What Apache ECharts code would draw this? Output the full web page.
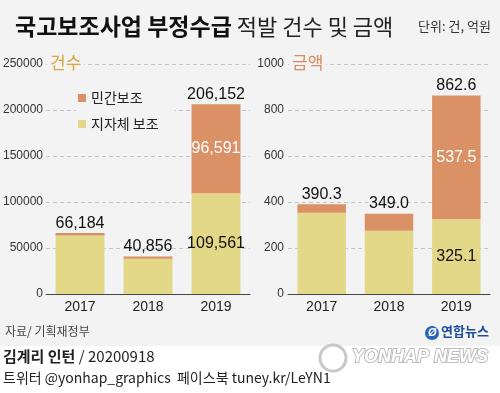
<!DOCTYPE html>
<html><head><meta charset="utf-8">
<script src="https://cdn.jsdelivr.net/npm/echarts@6/dist/echarts.min.js"></script>
<style>html,body{margin:0;padding:0;background:#fff}#c{width:500px;height:393px}</style>
</head><body><div id="c"></div>
<script>
const years = ['2017', '2018', '2019'];
const countLocal = [63600, 38300, 109561];
const countPrivate = [2584, 2556, 96591];
const countTotal = [66184, 40856, 206152];
const amountLocal = [353.5, 275.0, 325.1];
const amountPrivate = [36.8, 74.0, 537.5];
const amountTotal = [390.3, 349.0, 862.6];
const countTicks = [0, 50000, 100000, 150000, 200000, 250000];
const amountTicks = [0, 200, 400, 600, 800, 1000];

const ORANGE = '#da9166', YELLOW = '#e3d887', BG = '#f3f3f3';
const NUM = 'Liberation Sans, Arial, sans-serif';
const KR = '"Noto Sans CJK KR", sans-serif';

const chart = echarts.init(document.getElementById('c'), null, {renderer: 'canvas'});

function yAx(idx, ticks, margin) {
  return {
    type: 'value', gridIndex: idx, min: ticks[0], max: ticks[ticks.length - 1],
    interval: ticks[1] - ticks[0],
    axisLine: {show: false}, axisTick: {show: false},
    axisLabel: {color: '#333', fontSize: 12, fontFamily: NUM, margin: margin, formatter: v => String(v)},
    splitLine: {lineStyle: {color: '#c4c4c4', type: [4, 3], width: 1}}
  };
}
function xAx(idx) {
  return {
    type: 'category', gridIndex: idx, data: years,
    axisLine: {lineStyle: {color: '#444', width: 1}}, axisTick: {show: false},
    axisLabel: {color: '#222', fontSize: 14, fontFamily: NUM, margin: 6}
  };
}
function barSeries(idx, name, data, color, labelIdx, labelColor, fmt, stackName) {
  return {
    type: 'bar', name: name, xAxisIndex: idx, yAxisIndex: idx, stack: stackName,
    data: data, barWidth: '72%', itemStyle: {color: color},
    label: {show: true, position: 'inside', color: labelColor, fontSize: 16, fontFamily: NUM,
      formatter: p => p.dataIndex === labelIdx ? fmt(p.value) : ''}
  };
}
function totalSeries(idx, totals, fmt, stackName) {
  return {
    type: 'bar', name: 'total', xAxisIndex: idx, yAxisIndex: idx, stack: stackName,
    data: totals.map(() => 0), barWidth: '72%', itemStyle: {color: 'rgba(0,0,0,0)'},
    label: {show: true, position: 'top', distance: 2, color: '#111', fontSize: 16, fontFamily: NUM,
      formatter: p => fmt(totals[p.dataIndex])},
    silent: true
  };
}
const fmtC = v => Number(v).toLocaleString('en-US');
const fmtA = v => Number(v).toFixed(1);

chart.setOption({
  backgroundColor: '#fff',
  animation: false,
  title: {
    left: 10, top: 10,
    text: '{b|국고보조사업 부정수급} {n|적발 건수 및 금액}',
    textStyle: {rich: {
      b: {fontFamily: KR, fontWeight: 'bold', fontSize: 23, color: '#111'},
      n: {fontFamily: KR, fontWeight: 'normal', fontSize: 22, color: '#222'}
    }}
  },
  legend: {
    orient: 'vertical', left: 76, top: 88, itemWidth: 8, itemHeight: 8, itemGap: 10,
    icon: 'rect', data: ['민간보조', '지자체 보조'], backgroundColor: BG,
    padding: [2, 16, 2, 2],
    textStyle: {fontFamily: KR, fontSize: 14, color: '#222', lineHeight: 16}
  },
  grid: [
    {left: 46, right: 250, top: 64, bottom: 99},
    {left: 288, right: 10, top: 64, bottom: 99}
  ],
  xAxis: [xAx(0), xAx(1)],
  yAxis: [yAx(0, countTicks, 3), yAx(1, amountTicks, 4)],
  graphic: [
    {type: 'rect', z: -10, shape: {x: 0, y: 0, width: 500, height: 346}, style: {fill: BG}},
    {type: 'text', left: 418, top: 20, style: {text: '단위: 건, 억원', font: '13px "Noto Sans CJK KR"', fill: '#333'}},
    {type: 'text', x: 47, y: 54, z: 10, style: {text: '건수', font: '17px "Noto Sans CJK KR"', fill: '#d9a640', backgroundColor: BG, padding: [0, 3, 0, 3]}},
    {type: 'text', x: 289, y: 54, z: 10, style: {text: '금액', font: '17px "Noto Sans CJK KR"', fill: '#d98a60', backgroundColor: BG, padding: [0, 3, 0, 3]}},
    {type: 'text', x: 5, y: 325, style: {text: '자료/ 기획재정부', font: '12px "Noto Sans CJK KR"', fill: '#444'}},
    {type: 'circle', shape: {cx: 432, cy: 333, r: 7}, style: {fill: '#2b63b8'}},
    {type: 'text', x: 428, y: 327, style: {text: 'Ø', font: 'italic bold 11px Liberation Sans', fill: '#fff'}},
    {type: 'text', x: 441, y: 325, style: {text: '연합뉴스', font: 'bold 13px "Noto Sans CJK KR"', fill: '#1e4f9e'}},
    {type: 'circle', shape: {cx: 333, cy: 358, r: 13}, style: {fill: '#fff', stroke: '#c8c8c8', lineWidth: 3}},
    {type: 'text', x: 352, y: 348, style: {text: 'YONHAP NEWS', font: 'italic bold 18px "Liberation Sans"', fill: '#fff', stroke: '#bdbdbd', lineWidth: 2}},
    {type: 'text', x: 3, y: 349, style: {text: '{b|김계리 인턴} {n|/ 20200918}', rich: {
      b: {font: 'bold 15px "Noto Sans CJK KR"', fill: '#222'}, n: {font: '15px "Noto Sans CJK KR"', fill: '#222'}}}},
    {type: 'text', x: 3, y: 371, style: {text: '트위터 @yonhap_graphics  페이스북 tuney.kr/LeYN1', font: '14px "Noto Sans CJK KR"', fill: '#222'}}
  ],
  series: [
    barSeries(0, '지자체 보조', countLocal, YELLOW, 2, '#111', fmtC, 'c'),
    barSeries(0, '민간보조', countPrivate, ORANGE, 2, '#fff', fmtC, 'c'),
    totalSeries(0, countTotal, fmtC, 'c'),
    barSeries(1, '지자체 보조', amountLocal, YELLOW, 2, '#111', fmtA, 'a'),
    barSeries(1, '민간보조', amountPrivate, ORANGE, 2, '#fff', fmtA, 'a'),
    totalSeries(1, amountTotal, fmtA, 'a')
  ]
});
</script></body></html>
